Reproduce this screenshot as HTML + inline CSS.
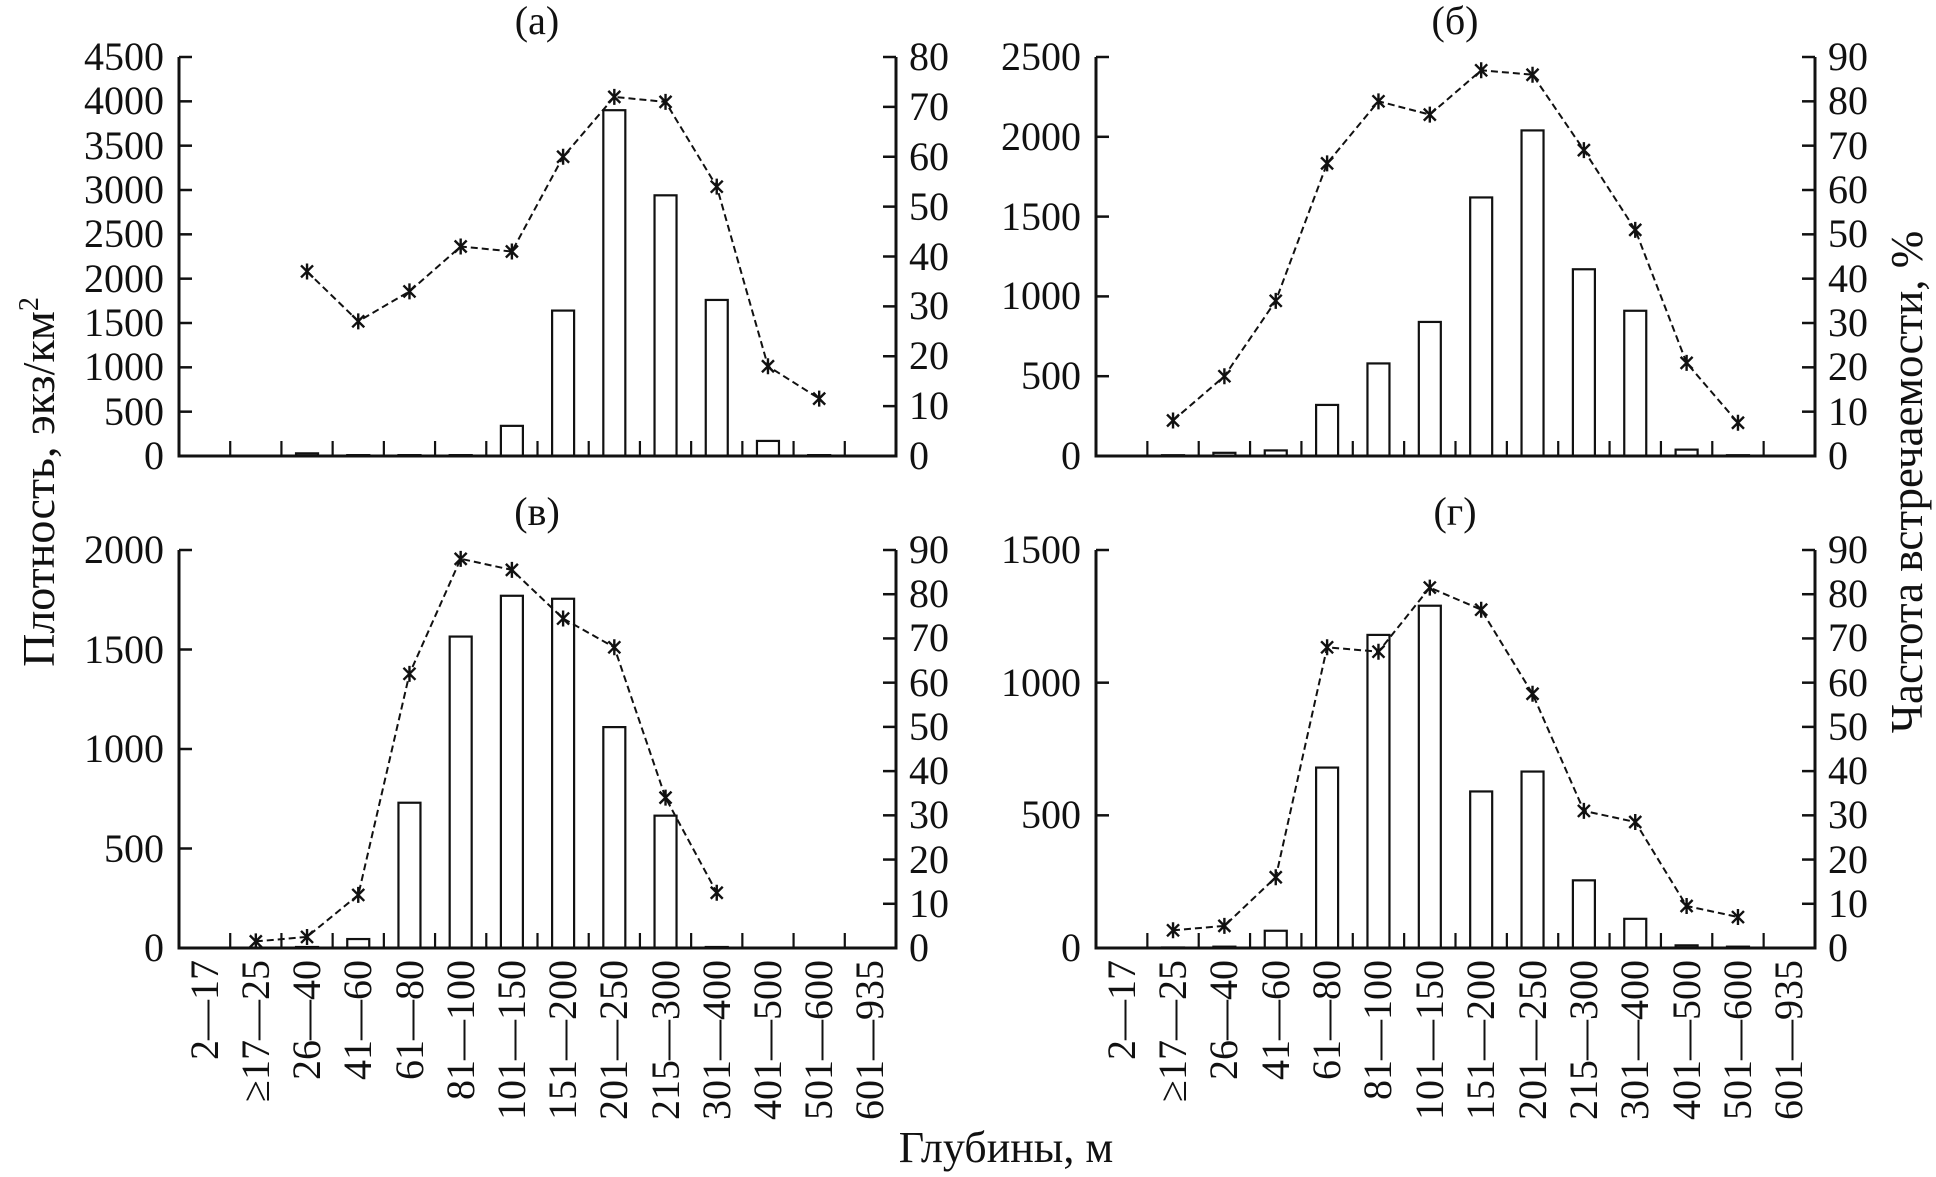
<!DOCTYPE html>
<html><head><meta charset="utf-8"><style>
html,body{margin:0;padding:0;background:#fff;}
svg{display:block;}
svg text{font-family:"Liberation Serif","Times New Roman",serif !important;fill:#111;}
.t{font-size:40px;}
</style></head><body>
<svg id="s" width="1936" height="1177" viewBox="0 0 1936 1177" xmlns="http://www.w3.org/2000/svg" font-family="Liberation Serif, serif">
<g id="g"></g>
<g class="t" font-family="Liberation Serif, serif" font-size="40">
<text x="537" y="34" text-anchor="middle">(а)</text>
<text x="1455" y="34" text-anchor="middle">(б)</text>
<text x="537" y="525" text-anchor="middle">(в)</text>
<text x="1455" y="525" text-anchor="middle">(г)</text>
<g text-anchor="end">
<text x="164" y="469">0</text><text x="164" y="425">500</text><text x="164" y="380">1000</text><text x="164" y="336">1500</text><text x="164" y="292">2000</text><text x="164" y="247">2500</text><text x="164" y="203">3000</text><text x="164" y="159">3500</text><text x="164" y="114">4000</text><text x="164" y="70">4500</text>
<text x="1081" y="469">0</text><text x="1081" y="389">500</text><text x="1081" y="309">1000</text><text x="1081" y="230">1500</text><text x="1081" y="150">2000</text><text x="1081" y="70">2500</text>
<text x="164" y="961">0</text><text x="164" y="862">500</text><text x="164" y="762">1000</text><text x="164" y="663">1500</text><text x="164" y="563">2000</text>
<text x="1081" y="961">0</text><text x="1081" y="828">500</text><text x="1081" y="696">1000</text><text x="1081" y="563">1500</text>
</g>
<text x="909" y="469">0</text><text x="909" y="419">10</text><text x="909" y="369">20</text><text x="909" y="319">30</text><text x="909" y="270">40</text><text x="909" y="220">50</text><text x="909" y="170">60</text><text x="909" y="120">70</text><text x="909" y="70">80</text>
<text x="1828" y="469">0</text><text x="1828" y="425">10</text><text x="1828" y="380">20</text><text x="1828" y="336">30</text><text x="1828" y="292">40</text><text x="1828" y="247">50</text><text x="1828" y="203">60</text><text x="1828" y="159">70</text><text x="1828" y="114">80</text><text x="1828" y="70">90</text>
<text x="909" y="961">0</text><text x="909" y="917">10</text><text x="909" y="873">20</text><text x="909" y="828">30</text><text x="909" y="784">40</text><text x="909" y="740">50</text><text x="909" y="696">60</text><text x="909" y="651">70</text><text x="909" y="607">80</text><text x="909" y="563">90</text>
<text x="1828" y="961">0</text><text x="1828" y="917">10</text><text x="1828" y="873">20</text><text x="1828" y="828">30</text><text x="1828" y="784">40</text><text x="1828" y="740">50</text><text x="1828" y="696">60</text><text x="1828" y="651">70</text><text x="1828" y="607">80</text><text x="1828" y="563">90</text>
<g text-anchor="end">
<text transform="translate(218,960) rotate(-90)">2—17</text>
<text transform="translate(269,960) rotate(-90)">≥17—25</text>
<text transform="translate(320,960) rotate(-90)">26—40</text>
<text transform="translate(371,960) rotate(-90)">41—60</text>
<text transform="translate(423,960) rotate(-90)">61—80</text>
<text transform="translate(474,960) rotate(-90)">81—100</text>
<text transform="translate(525,960) rotate(-90)">101—150</text>
<text transform="translate(576,960) rotate(-90)">151—200</text>
<text transform="translate(627,960) rotate(-90)">201—250</text>
<text transform="translate(679,960) rotate(-90)">215—300</text>
<text transform="translate(730,960) rotate(-90)">301—400</text>
<text transform="translate(781,960) rotate(-90)">401—500</text>
<text transform="translate(832,960) rotate(-90)">501—600</text>
<text transform="translate(883,960) rotate(-90)">601—935</text>
<text transform="translate(1135,960) rotate(-90)">2—17</text>
<text transform="translate(1186,960) rotate(-90)">≥17—25</text>
<text transform="translate(1237,960) rotate(-90)">26—40</text>
<text transform="translate(1289,960) rotate(-90)">41—60</text>
<text transform="translate(1340,960) rotate(-90)">61—80</text>
<text transform="translate(1391,960) rotate(-90)">81—100</text>
<text transform="translate(1443,960) rotate(-90)">101—150</text>
<text transform="translate(1494,960) rotate(-90)">151—200</text>
<text transform="translate(1546,960) rotate(-90)">201—250</text>
<text transform="translate(1597,960) rotate(-90)">215—300</text>
<text transform="translate(1648,960) rotate(-90)">301—400</text>
<text transform="translate(1700,960) rotate(-90)">401—500</text>
<text transform="translate(1751,960) rotate(-90)">501—600</text>
<text transform="translate(1802,960) rotate(-90)">601—935</text>
</g>
<text transform="translate(54,482) rotate(-90)" text-anchor="middle" font-size="46" style="font-size:46px">Плотность, экз/км<tspan dy="-16" style="font-size:28px">2</tspan></text>
<text transform="translate(1922,482) rotate(-90)" text-anchor="middle" font-size="45" style="font-size:45px">Частота встречаемости, %</text>
<text x="1006" y="1162" text-anchor="middle" font-size="44" style="font-size:44px">Глубины, м</text>
</g>
</svg>
<script>
var NS="http://www.w3.org/2000/svg",G=document.getElementById("g");
function el(n,a){var e=document.createElementNS(NS,n);for(var k in a)e.setAttribute(k,a[k]);G.appendChild(e);return e;}
function panel(x0,x1,yT,y0,lmax,lstep,rmax,rstep,bars,pts){
 var cw=(x1-x0)/14,H=y0-yT;
 for(var i=0;i<14;i++){var v=bars[i];if(v==null)continue;var h=H*v/lmax;var cx=x0+cw*(i+.5);
  el("rect",{x:cx-11,y:y0-h,width:22,height:h,fill:"#fff",stroke:"#111","stroke-width":2.2});}
 el("line",{x1:x0,y1:yT,x2:x0,y2:y0+1.5,stroke:"#111","stroke-width":3});
 el("line",{x1:x1,y1:yT,x2:x1,y2:y0+1.5,stroke:"#111","stroke-width":3});
 el("line",{x1:x0,y1:y0,x2:x1,y2:y0,stroke:"#111","stroke-width":3});
 for(var v=0;v<=lmax+1e-6;v+=lstep){var y=y0-H*v/lmax;el("line",{x1:x0,y1:y,x2:x0+13,y2:y,stroke:"#111","stroke-width":2.5});}
 for(var v=0;v<=rmax+1e-6;v+=rstep){var y=y0-H*v/rmax;el("line",{x1:x1-13,y1:y,x2:x1,y2:y,stroke:"#111","stroke-width":2.5});}
 for(var i=1;i<14;i++){var x=x0+cw*i;el("line",{x1:x,y1:y0,x2:x,y2:y0-15,stroke:"#111","stroke-width":2.2});}
 var d="",P=[];
 for(var i=0;i<14;i++){var v=pts[i];if(v==null)continue;var x=x0+cw*(i+.5),y=y0-H*v/rmax;P.push([x,y]);d+=(d?"L":"M")+x.toFixed(1)+" "+y.toFixed(1);}
 el("path",{d:d,fill:"none",stroke:"#111","stroke-width":2,"stroke-dasharray":"7 4"});
 P.forEach(function(p){var x=p[0],y=p[1],s=6;
  el("path",{d:"M"+(x-s)+" "+(y-s)+"L"+(x+s)+" "+(y+s)+"M"+(x+s)+" "+(y-s)+"L"+(x-s)+" "+(y+s)+"M"+x+" "+(y-8)+"L"+x+" "+(y+8),stroke:"#111","stroke-width":2.4,fill:"none"});});
}
var N=null;
panel(179,896,57,456,4500,500,80,10,
 [N,N,30,10,10,10,340,1640,3900,2940,1760,170,10,N],
 [N,N,37,27,33,42,41,60,72,71,54,18,11.5,N]);
panel(1096,1815,57,456,2500,500,90,10,
 [N,5,20,35,320,580,840,1620,2040,1170,910,40,5,N],
 [N,8,18,35,66,80,77,87,86,69,51,21,7.5,N]);
panel(179,896,550,948,2000,500,90,10,
 [N,N,5,45,730,1565,1770,1755,1110,665,5,N,N,N],
 [N,1.5,2.5,12,62,88,85.5,74.5,68,34,12.5,N,N,N]);
panel(1096,1815,550,948,1500,500,90,10,
 [N,2,5,65,680,1180,1290,590,665,255,110,10,5,N],
 [N,4,5,16,68,67,81.5,76.5,57.5,31,28.5,9.5,7,N]);
</script>
</body></html>
